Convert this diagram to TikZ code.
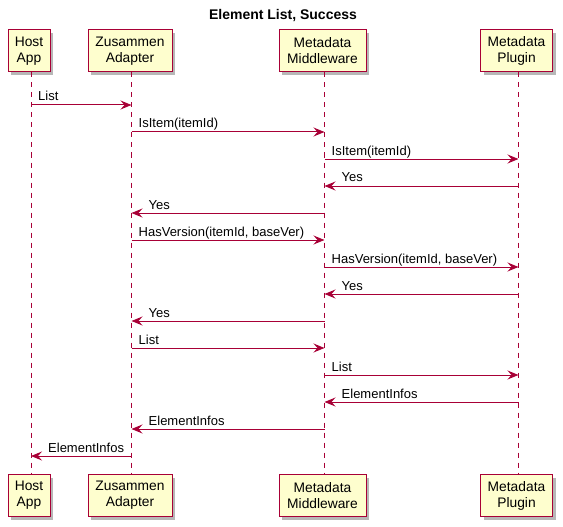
\documentclass[tikz,border=0pt]{standalone}
\usepackage{fontspec}
\setmainfont{Liberation Sans}
\usetikzlibrary{arrows.meta,shadows}
\definecolor{pline}{HTML}{A80036}
\definecolor{pfill}{HTML}{FEFECE}
\begin{document}
\begin{tikzpicture}[x=1pt,y=-1pt,
  part/.style={draw=pline,fill=pfill,line width=1pt,align=center,inner sep=0pt,
    font=\fontsize{13.8}{16}\selectfont,
    drop shadow={shadow xshift=3pt,shadow yshift=-3pt,fill=black!40,opacity=0.7}},
  life/.style={draw=pline,line width=0.8pt,dash pattern=on 5pt off 5pt},
  msg/.style={draw=pline,line width=1pt,-{Stealth[length=11pt,width=9pt,inset=4pt]}},
  lbl/.style={font=\fontsize{13}{15}\selectfont,inner sep=0pt,anchor=base west}]
\useasboundingbox (0,0) rectangle (563,527);
\node[font=\bfseries\fontsize{14}{16}\selectfont] (title) at (283,16) {Element List, Success};
% top participants
\node[part,minimum width=42pt,minimum height=42pt] (h1) at (29,51) {Host\\App};
\node[part,minimum width=84pt,minimum height=42pt] (z1) at (130,51) {Zusammen\\Adapter};
\node[part,minimum width=87pt,minimum height=42pt] (m1) at (322.5,51) {Metadata\\Middleware};
\node[part,minimum width=72pt,minimum height=42pt] (p1) at (516.5,51) {Metadata\\Plugin};
% bottom participants
\node[part,minimum width=42pt,minimum height=42pt] (h2) at (29,495.5) {Host\\App};
\node[part,minimum width=84pt,minimum height=42pt] (z2) at (130,495.5) {Zusammen\\Adapter};
\node[part,minimum width=87pt,minimum height=42pt] (m2) at (322.5,495.5) {Metadata\\Middleware};
\node[part,minimum width=72pt,minimum height=42pt] (p2) at (516.5,495.5) {Metadata\\Plugin};
% lifeline coordinates
\coordinate (H) at (31,0);
\coordinate (Z) at (131.5,0);
\coordinate (M) at (324.5,0);
\coordinate (P) at (518.5,0);
\draw[life] (H |- h1.south) -- (H |- h2.north);
\draw[life] (Z |- z1.south) -- (Z |- z2.north);
\draw[life] (M |- m1.south) -- (M |- m2.north);
\draw[life] (P |- p1.south) -- (P |- p2.north);
% messages
\newcommand{\rmsg}[4]{% from, to, y, label
  \coordinate (a#3) at (#1 |- 0,#3);
  \coordinate (b#3) at (#2 |- 0,#3);
  \draw[msg] (a#3) -- (b#3);
  \node[lbl] at ([xshift=7pt,yshift=4pt]a#3) {#4};}
\newcommand{\lmsg}[4]{% from, to, y, label (leftward)
  \coordinate (a#3) at (#1 |- 0,#3);
  \coordinate (b#3) at (#2 |- 0,#3);
  \draw[msg] (a#3) -- (b#3);
  \node[lbl] at ([xshift=17pt,yshift=4pt]b#3) {#4};}
\rmsg{H}{Z}{105}{List}
\rmsg{Z}{M}{132}{IsItem(itemId)}
\rmsg{M}{P}{159}{IsItem(itemId)}
\lmsg{P}{M}{186}{Yes}
\lmsg{M}{Z}{213}{Yes}
\rmsg{Z}{M}{240}{HasVersion(itemId, baseVer)}
\rmsg{M}{P}{267}{HasVersion(itemId, baseVer)}
\lmsg{P}{M}{294}{Yes}
\lmsg{M}{Z}{321}{Yes}
\rmsg{Z}{M}{348}{List}
\rmsg{M}{P}{375}{List}
\lmsg{P}{M}{402}{ElementInfos}
\lmsg{M}{Z}{429}{ElementInfos}
\lmsg{Z}{H}{456}{ElementInfos}
\end{tikzpicture}
\end{document}
